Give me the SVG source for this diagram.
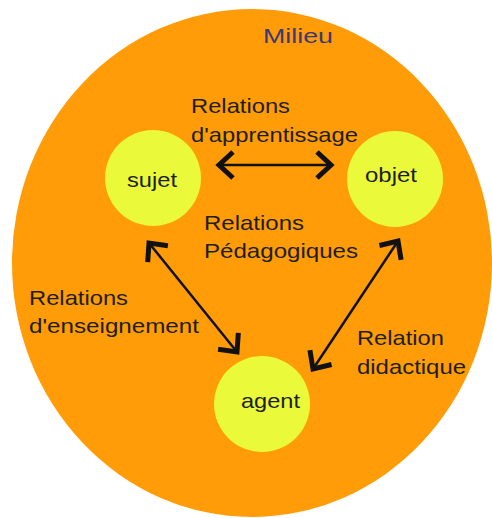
<svg xmlns="http://www.w3.org/2000/svg" width="492" height="518" viewBox="0 0 492 518">
<style>
  .lbl { font-family: "Liberation Sans", Arial, sans-serif; font-size: 21px; fill: #1e1e14; }
  .node { fill: #EAFA3A; }
  .conn { stroke: #111; stroke-width: 2.5; fill: none; marker-start: url(#head); marker-end: url(#head); }
</style>
<defs>
  <marker id="head" markerUnits="userSpaceOnUse" markerWidth="40" markerHeight="40" viewBox="-20 -20 40 40" refX="0" refY="0" orient="auto-start-reverse" overflow="visible">
    <path d="M -14 -13 L 0 0 L -14 13" fill="none" stroke="#111" stroke-width="5" stroke-linejoin="miter" stroke-linecap="butt"/>
  </marker>
</defs>
<rect width="492" height="518" fill="#ffffff"/>
<g id="milieu">
  <ellipse cx="252" cy="263" rx="240" ry="254" fill="#FF9C08"/>
  <text class="lbl" x="263" y="43" textLength="70" lengthAdjust="spacingAndGlyphs" style="fill:#3a3a78">Milieu</text>
</g>
<g id="sujet">
  <circle class="node" cx="153" cy="178" r="48"/>
  <text class="lbl" x="127" y="187" textLength="50" lengthAdjust="spacingAndGlyphs">sujet</text>
</g>
<g id="objet">
  <circle class="node" cx="395" cy="179" r="48"/>
  <text class="lbl" x="365" y="182" textLength="52" lengthAdjust="spacingAndGlyphs">objet</text>
</g>
<g id="agent">
  <circle class="node" cx="262" cy="404" r="48"/>
  <text class="lbl" x="241" y="408" textLength="59" lengthAdjust="spacingAndGlyphs">agent</text>
</g>
<g id="connectors">
  <line class="conn" x1="219" y1="165" x2="331" y2="165"/>
  <line class="conn" x1="149" y1="243" x2="237" y2="352"/>
  <line class="conn" x1="398" y1="241" x2="313" y2="369"/>
</g>
<g id="labels">
  <text class="lbl" x="191" y="113" textLength="99" lengthAdjust="spacingAndGlyphs">Relations</text>
  <text class="lbl" x="191" y="142" textLength="167" lengthAdjust="spacingAndGlyphs">d'apprentissage</text>
  <text class="lbl" x="204" y="230" textLength="100" lengthAdjust="spacingAndGlyphs">Relations</text>
  <text class="lbl" x="204" y="258" textLength="154" lengthAdjust="spacingAndGlyphs">Pédagogiques</text>
  <text class="lbl" x="29" y="305" textLength="99" lengthAdjust="spacingAndGlyphs">Relations</text>
  <text class="lbl" x="29" y="333" textLength="170" lengthAdjust="spacingAndGlyphs">d'enseignement</text>
  <text class="lbl" x="357" y="345" textLength="87" lengthAdjust="spacingAndGlyphs">Relation</text>
  <text class="lbl" x="357" y="374" textLength="109" lengthAdjust="spacingAndGlyphs">didactique</text>
</g>
</svg>
